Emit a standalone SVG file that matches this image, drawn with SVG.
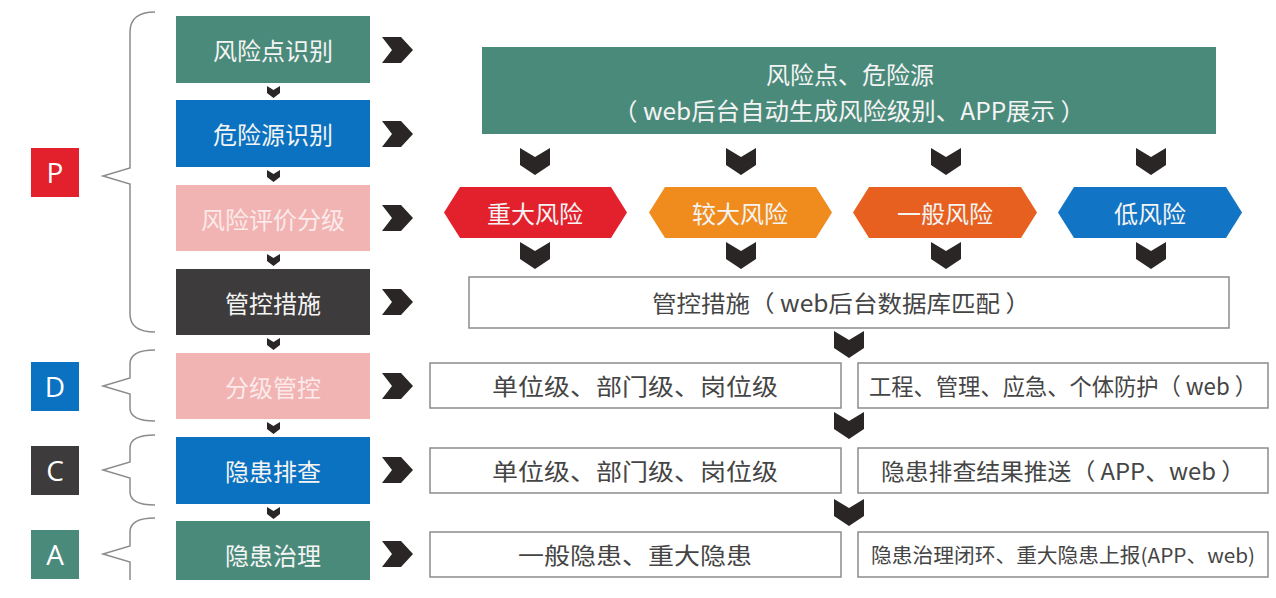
<svg xmlns="http://www.w3.org/2000/svg" xmlns:xlink="http://www.w3.org/1999/xlink" width="1276" height="598" viewBox="0 0 1276 598">
<style>
text{font-family:"Noto Sans CJK SC","Noto Sans",sans-serif;text-anchor:middle;dominant-baseline:central}
.lt{fill:#f4f4f4;font-size:24px}
.pk{fill:#fbeaea;font-size:24px}
.wb{fill:#fff;stroke:#8c8c8c;stroke-width:1.5}
.dt{fill:#454545;font-size:23px}
.br{fill:none;stroke:#8c8c8c;stroke-width:1.5}
.ch{fill:#2b2626}
.lab{fill:#fff;font-family:"Open Sans","Noto Sans",sans-serif;font-size:28px}
</style>
<defs>
<polygon id="chR" points="0,0 19,0 31,13 19,26 0,26 10,13"/>
<polygon id="chD" points="0,0 15,9 30,0 30,17 15,27 0,17"/>
<polygon id="chS" points="0,0 6.5,4 13,0 13,7 6.5,12 0,7"/>
</defs>
<rect width="1276" height="598" fill="#fff"/>

<g id="labels">
<g id="labelP"><rect x="31" y="148" width="48" height="49" fill="#e3212d"/><text class="lab" x="55" y="172">P</text></g>
<g id="labelD"><rect x="31" y="362" width="48" height="49" fill="#0a72c0"/><text class="lab" x="55" y="386">D</text></g>
<g id="labelC"><rect x="31" y="446" width="48" height="49" fill="#3d3b3b"/><text class="lab" x="55" y="470">C</text></g>
<g id="labelA"><rect x="31" y="530" width="48" height="49" fill="#4a8a7a"/><text class="lab" x="55" y="554">A</text></g>
</g>

<g id="braces">
<path class="br" d="M155,12 Q130,12 130,32 L130,168 L103,176 L130,184 L130,314 Q130,332 155,332"/>
<path class="br" d="M155,350 Q130,350 130,364 L130,378 L103,386 L130,394 L130,408 Q130,421 155,421"/>
<path class="br" d="M155,435 Q130,435 130,448 L130,462 L103,470 L130,478 L130,492 Q130,505 155,505"/>
<path class="br" d="M155,518 Q130,518 130,532 L130,546 L103,554 L130,562 L130,580"/>
</g>

<g id="n1"><rect x="176" y="16" width="194" height="67" fill="#4a8a7a"/><text class="lt" x="273" y="49">风险点识别</text></g>
<g id="n2"><rect x="176" y="100" width="194" height="67" fill="#0a72c0"/><text class="lt" x="273" y="133">危险源识别</text></g>
<g id="n3"><rect x="176" y="185" width="194" height="66" fill="#f2b3b3"/><text class="pk" x="273" y="218">风险评价分级</text></g>
<g id="n4"><rect x="176" y="269" width="194" height="66" fill="#3d3b3b"/><text class="lt" x="273" y="302">管控措施</text></g>
<g id="n5"><rect x="176" y="353" width="194" height="66" fill="#f2b3b3"/><text class="pk" x="273" y="386">分级管控</text></g>
<g id="n6"><rect x="176" y="437" width="194" height="67" fill="#0a72c0"/><text class="lt" x="273" y="470">隐患排查</text></g>
<g id="n7"><rect x="176" y="521" width="194" height="59" fill="#4a8a7a"/><text class="lt" x="273" y="554">隐患治理</text></g>

<g id="top"><rect x="482" y="47" width="734" height="87" fill="#4a8a7a"/>
<text class="lt" x="850" y="73">风险点、危险源</text>
<text class="lt" x="849" y="109" textLength="472" lengthAdjust="spacingAndGlyphs">（ web后台自动生成风险级别、APP展示 ）</text></g>

<g id="h1"><polygon points="460,187 611,187 627,212.5 611,238 460,238 444,212.5" fill="#e3212d"/><text class="lt" x="535" y="212">重大风险</text></g>
<g id="h2"><polygon points="665,187 816,187 832,212.5 816,238 665,238 649,212.5" fill="#f08c1e"/><text class="lt" x="740" y="212">较大风险</text></g>
<g id="h3"><polygon points="869,187 1021,187 1037,212.5 1021,238 869,238 853,212.5" fill="#e8601f"/><text class="lt" x="945" y="212">一般风险</text></g>
<g id="h4"><polygon points="1074,187 1226,187 1242,212.5 1226,238 1074,238 1058,212.5" fill="#1274c4"/><text class="lt" x="1150" y="212">低风险</text></g>

<g id="mc"><rect class="wb" x="469" y="277" width="760" height="51"/><text class="dt" x="841" y="302" textLength="378" lengthAdjust="spacingAndGlyphs">管控措施（ web后台数据库匹配 ）</text></g>

<g id="r1a"><rect class="wb" x="430" y="363" width="411" height="45"/><text class="dt" x="635" y="385" textLength="286" lengthAdjust="spacingAndGlyphs">单位级、部门级、岗位级</text></g>
<g id="r1b"><rect class="wb" x="858" y="363" width="410" height="45"/><text class="dt" x="1063" y="385" textLength="388" lengthAdjust="spacingAndGlyphs">工程、管理、应急、个体防护（ web ）</text></g>
<g id="r2a"><rect class="wb" x="430" y="448" width="411" height="45"/><text class="dt" x="635" y="470" textLength="286" lengthAdjust="spacingAndGlyphs">单位级、部门级、岗位级</text></g>
<g id="r2b"><rect class="wb" x="858" y="448" width="410" height="45"/><text class="dt" x="1063" y="470" textLength="364" lengthAdjust="spacingAndGlyphs">隐患排查结果推送（ APP、web ）</text></g>
<g id="r3a"><rect class="wb" x="430" y="532" width="411" height="45"/><text class="dt" x="635" y="554" textLength="234" lengthAdjust="spacingAndGlyphs">一般隐患、重大隐患</text></g>
<g id="r3b"><rect class="wb" x="858" y="532" width="410" height="45"/><text class="dt" x="1063" y="554" textLength="384" lengthAdjust="spacingAndGlyphs" style="font-size:20px">隐患治理闭环、重大隐患上报(APP、web)</text></g>

<g id="connectors" class="ch">
<use href="#chS" x="267" y="86"/>
<use href="#chS" x="267" y="170"/>
<use href="#chS" x="267" y="254"/>
<use href="#chS" x="267" y="338"/>
<use href="#chS" x="267" y="422"/>
<use href="#chS" x="267" y="507"/>
<use href="#chR" x="382" y="37"/>
<use href="#chR" x="382" y="121"/>
<use href="#chR" x="382" y="205"/>
<use href="#chR" x="382" y="289"/>
<use href="#chR" x="382" y="373"/>
<use href="#chR" x="382" y="457"/>
<use href="#chR" x="382" y="541"/>
<use href="#chD" x="520" y="148"/>
<use href="#chD" x="726" y="148"/>
<use href="#chD" x="931" y="148"/>
<use href="#chD" x="1136" y="148"/>
<use href="#chD" x="520" y="242"/>
<use href="#chD" x="726" y="242"/>
<use href="#chD" x="931" y="242"/>
<use href="#chD" x="1136" y="242"/>
<use href="#chD" x="834" y="331"/>
<use href="#chD" x="834" y="412"/>
<use href="#chD" x="834" y="499"/>
</g>
</svg>
